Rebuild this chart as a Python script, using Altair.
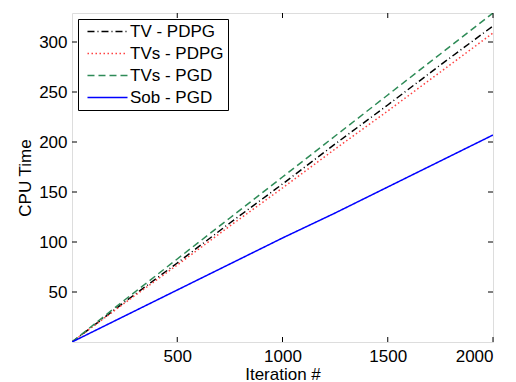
import altair as alt
import pandas as pd

iters = [0, 250, 500, 750, 1000, 1250, 1500, 1750, 2000]
tv_pdpg = [0, 40, 79, 119, 158, 198, 237, 277, 316]
tvs_pdpg = [0, 39, 77, 116, 154, 193, 231, 270, 309]
tvs_pgd = [0, 42, 83, 124, 165, 206, 247, 288, 329]
sob_pgd = [0, 26, 52, 78, 104, 129, 155, 181, 207]
series_names = ["TV - PDPG", "TVs - PDPG", "TVs - PGD", "Sob - PGD"]
x_ticks = [500, 1000, 1500, 2000]
y_ticks = [50, 100, 150, 200, 250, 300]

colors = ["#000000", "#ff4040", "#2e8b57", "#0000ff"]
dashes = [[7, 3, 1, 3], [1.5, 2.5], [7, 4], [1, 0]]

W, H = 421, 329
FONT = "Liberation Sans"
FS = 17

rows = []
for name, vals in zip(series_names, [tv_pdpg, tvs_pdpg, tvs_pgd, sob_pgd]):
    for it, v in zip(iters, vals):
        rows.append({"iter": it, "cpu": v, "series": name})
df = pd.DataFrame(rows)

xscale = alt.Scale(domain=[0, 2000], nice=False)
yscale = alt.Scale(domain=[0, 329], nice=False, zero=False)

legend = alt.Legend(
    title=None, orient="none", legendX=6, legendY=6,
    strokeColor="black", fillColor="white", padding=4,
    labelFont=FONT, labelFontSize=FS, labelColor="black",
    symbolType="M-3,0H3", symbolSize=178, symbolStrokeWidth=1.5,
    symbolOffset=17, labelOffset=14, rowPadding=4,
)

lines = alt.Chart(df).mark_line(strokeWidth=1.5, clip=True).encode(
    x=alt.X("iter:Q", scale=xscale,
            axis=alt.Axis(values=x_ticks, format="d", title="Iteration #", ticks=False,
                          domain=False, grid=False, labelPadding=6, labelFont=FONT,
                          labelFontSize=FS, labelColor="black", titleFont=FONT,
                          titleFontSize=FS, titleFontWeight="normal", titleColor="black",
                          titlePadding=2)),
    y=alt.Y("cpu:Q", scale=yscale,
            axis=alt.Axis(values=y_ticks, format="d", title="CPU Time", ticks=False,
                          domain=False, grid=False, labelPadding=5, labelFont=FONT,
                          labelFontSize=FS, labelColor="black", titleFont=FONT,
                          titleFontSize=FS, titleFontWeight="normal", titleColor="black",
                          titlePadding=4)),
    color=alt.Color("series:N", scale=alt.Scale(domain=series_names, range=colors), legend=legend),
    strokeDash=alt.StrokeDash("series:N", scale=alt.Scale(domain=series_names, range=dashes), legend=legend),
    order=alt.Order("iter:Q"),
)

xt = pd.DataFrame({"iter": x_ticks})
yt = pd.DataFrame({"cpu": y_ticks})
tick_len = 5
bottom = alt.Chart(xt).mark_rule(color="black").encode(
    x=alt.X("iter:Q"), y=alt.value(H), y2=alt.value(H - tick_len))
top = alt.Chart(xt).mark_rule(color="black").encode(
    x=alt.X("iter:Q"), y=alt.value(0), y2=alt.value(tick_len))
left = alt.Chart(yt).mark_rule(color="black").encode(
    y=alt.Y("cpu:Q"), x=alt.value(0), x2=alt.value(tick_len))
right = alt.Chart(yt).mark_rule(color="black").encode(
    y=alt.Y("cpu:Q"), x=alt.value(W), x2=alt.value(W - tick_len))

chart = alt.layer(lines, bottom, top, left, right).properties(
    width=W, height=H,
    autosize=alt.AutoSizeParams(type="none"),
    padding={"left": 64, "top": 5, "right": 15, "bottom": 40},
).configure_view(stroke="black", strokeWidth=1).configure(background="white")

chart.save("out.html", embed_options={"renderer": "svg", "actions": False})
